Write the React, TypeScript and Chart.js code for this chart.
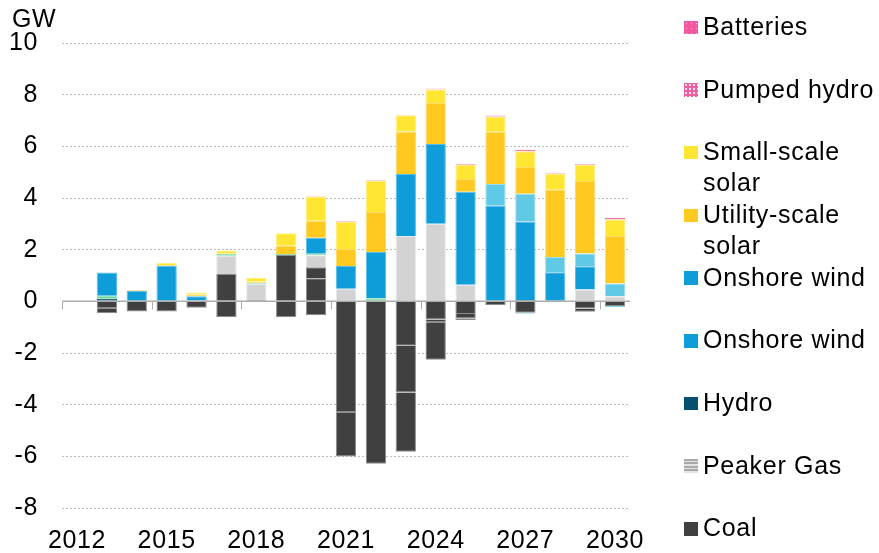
import React, { useEffect, useRef } from "react";
import { Chart, registerables } from "chart.js";

Chart.register(...registerables);

const years = ["2012","2013","2014","2015","2016","2017","2018","2019","2020","2021","2022","2023","2024","2025","2026","2027","2028","2029","2030"];

// Coal retirements (negative), split as in the source bars
const coalRet1 = [0, -0.27, -0.39, -0.39, -0.25, -0.62, 0, -0.62, -0.54, -4.29, -6.29, -1.72, -0.70, -0.49, -0.14, -0.44, 0, -0.28, -0.18];
const coalRet2 = [0, -0.19, 0, 0, 0, 0, 0, 0, 0, -1.72, 0, -1.81, -0.11, -0.17, 0, 0, 0, -0.12, 0];
const coalRet3 = [0, 0, 0, 0, 0, 0, 0, 0, 0, 0, 0, -2.29, -1.45, -0.06, 0, 0, 0, 0, 0];
// Coal additions (positive)
const coalAdd1 = [0, 0, 0, 0, 0, 1.06, 0.05, 1.79, 0.89, 0, 0, 0, 0, 0, 0, 0, 0, 0, 0];
const coalAdd2 = [0, 0, 0, 0, 0, 0, 0, 0, 0.43, 0, 0, 0, 0, 0, 0, 0, 0, 0, 0];
const peakerGas = [0, 0, 0, 0, 0, 0.70, 0.63, 0, 0.46, 0.49, 0, 2.53, 3.00, 0.64, 0, 0, 0, 0.46, 0.20];
const hydro = [0, 0.10, 0, 0, 0, 0, 0, 0, 0, 0, 0, 0, 0, 0, 0, 0.05, 0, 0, 0];
const other = [0, 0.12, 0, 0, 0.03, 0.08, 0.04, 0.04, 0.06, 0, 0.12, 0, 0, 0, 0, 0, 0, 0, 0];
const onshoreWind = [0, 0.90, 0.40, 1.38, 0.17, 0, 0, 0, 0.62, 0.88, 1.79, 2.40, 3.09, 3.60, 3.70, 3.04, 1.13, 0.90, 0];
const onshoreWind2 = [0, 0, 0, 0, 0, 0, 0, 0, 0, 0, 0, 0, 0, 0, 0.84, 1.07, 0.59, 0.49, 0.49];
const onshoreWind2Neg = [0, 0, 0, 0, 0, 0, 0, 0, 0, 0, 0, 0, 0, 0, 0, -0.04, -0.04, 0, -0.05];
const utilitySolar = [0, 0, 0.03, 0.03, 0.06, 0.03, 0.05, 0.32, 0.66, 0.66, 1.55, 1.64, 1.59, 0.50, 2.02, 1.04, 2.60, 2.81, 1.84];
const smallSolar = [0, 0, 0, 0.07, 0.08, 0.10, 0.13, 0.49, 0.94, 1.04, 1.20, 0.63, 0.52, 0.54, 0.59, 0.61, 0.62, 0.62, 0.64];
const pumpedHydro = [0, 0, 0, 0, 0, 0, 0, 0, 0.03, 0.03, 0.03, 0.02, 0.04, 0.04, 0.04, 0, 0.04, 0.04, 0];
const batteries = [0, 0, 0, 0, 0, 0, 0, 0, 0, 0, 0, 0, 0, 0, 0, 0.06, 0, 0, 0.06];

const yMin = -8;
const yMax = 10;
const yStep = 2;
const unitLabel = "GW";

const legendLabels = [["Batteries"], ["Pumped hydro"], ["Small-scale", "solar"], ["Utility-scale", "solar"], ["Onshore wind"], ["Onshore wind"], ["Hydro"], ["Peaker Gas"], ["Coal"]];

const C = {
  coal: "#404040", coalB: "#8C8C8C",
  peaker: "#D3D3D3", peakerB: "#E8E8E8",
  hydro: "#04506E", hydroB: "#04506E",
  other: "#6FD9A0", otherB: "#8EE2B4",
  wind: "#0E9DD9", windB: "#5ABDE8",
  wind2: "#5FC9E6", wind2B: "#9CDDF0",
  utility: "#FFC91F", utilityB: "#FFDA66",
  small: "#FFE633", smallB: "#FFF080",
  pumped: "#F5A0C4", pumpedB: "#F5A0C4",
  batt: "#F2589F", battB: "#F2589F",
};

const legendSwatches: React.CSSProperties[] = [
  { background: C.batt, backgroundImage: "radial-gradient(rgba(255,255,255,0.55) 0.7px, transparent 1px)", backgroundSize: "5px 5px" },
  { background: "#EE5E9F", backgroundImage: "radial-gradient(rgba(255,255,255,0.85) 0.8px, transparent 1.1px)", backgroundSize: "4px 4px" },
  { background: C.small },
  { background: C.utility },
  { background: C.wind },
  { background: C.wind },
  { background: C.hydro },
  { background: "repeating-linear-gradient(#A8A8A8 0px, #A8A8A8 2px, #E4E4E4 2px, #E4E4E4 3.4px)" },
  { background: C.coal },
];

const FONT = "'Liberation Sans', Arial, sans-serif";
const FS = 25;
const LS = "0.6px";

const overlayPlugin = {
  id: "overlay",
  beforeUpdate(chart: any) {
    chart.ctx.letterSpacing = LS;
  },
  beforeDraw(chart: any) {
    chart.ctx.letterSpacing = LS;
  },
  afterDatasetsDraw(chart: any) {
    const { ctx, chartArea, scales } = chart;
    const x = scales.x;
    const y = scales.y;
    const y0 = y.getPixelForValue(0);
    ctx.save();
    ctx.strokeStyle = "#ADADAD";
    ctx.lineWidth = 1.5;
    ctx.beginPath();
    ctx.moveTo(chartArea.left, y0);
    ctx.lineTo(chartArea.right, y0);
    ctx.stroke();
    const w = (chartArea.right - chartArea.left) / years.length;
    ctx.lineWidth = 1;
    for (let i = 0; i < years.length; i += 3) {
      const px = Math.round(x.getPixelForValue(i) - w / 2) + 0.5;
      ctx.beginPath();
      ctx.moveTo(px, y0);
      ctx.lineTo(px, y0 + 8);
      ctx.stroke();
    }
    ctx.restore();
  },
  afterDraw(chart: any) {
    const { ctx } = chart;
    ctx.save();
    ctx.fillStyle = "#000";
    ctx.font = `${FS}px ${FONT}`;
    ctx.textAlign = "left";
    ctx.textBaseline = "alphabetic";
    ctx.fillText(unitLabel, 12, 27);
    ctx.restore();
  },
};

export default function App() {
  const ref = useRef<HTMLCanvasElement>(null);
  useEffect(() => {
    if (!ref.current) return;
    const mk = (label: string, data: number[], color: string, border: string) => ({
      label,
      data,
      backgroundColor: color,
      borderColor: border,
      borderWidth: 1,
      borderSkipped: "start" as const,
      barPercentage: 0.68,
      categoryPercentage: 1,
    });
    const chart = new Chart(ref.current, {
      type: "bar",
      data: {
        labels: years,
        datasets: [
          mk("Coal", coalRet1, C.coal, C.coalB),
          mk("Coal 2", coalRet2, C.coal, C.coalB),
          mk("Coal 3", coalRet3, C.coal, C.coalB),
          mk("Coal add", coalAdd1, C.coal, C.coalB),
          mk("Coal add 2", coalAdd2, C.coal, C.coalB),
          mk("Peaker Gas", peakerGas, C.peaker, C.peakerB),
          mk("Hydro", hydro, C.hydro, C.hydroB),
          mk("Other", other, C.other, C.otherB),
          mk("Onshore wind", onshoreWind, C.wind, C.windB),
          mk("Onshore wind (2)", onshoreWind2, C.wind2, C.wind2B),
          mk("Onshore wind (2) neg", onshoreWind2Neg, C.wind2, C.wind2B),
          mk("Utility-scale solar", utilitySolar, C.utility, C.utilityB),
          mk("Small-scale solar", smallSolar, C.small, C.smallB),
          mk("Pumped hydro", pumpedHydro, C.pumped, C.pumpedB),
          mk("Batteries", batteries, C.batt, C.battB),
        ],
      },
      options: {
        responsive: false,
        animation: false,
        layout: { padding: { left: 0, top: 43, right: 249, bottom: 0 } },
        plugins: { legend: { display: false }, tooltip: { enabled: false } },
        scales: {
          x: {
            stacked: true,
            grid: { display: false, drawTicks: false },
            border: { display: false },
            ticks: {
              autoSkip: false,
              maxRotation: 0,
              minRotation: 0,
              padding: 18,
              color: "#000",
              font: { family: FONT, size: FS },
              callback: (_v: any, i: number) => (i % 3 === 0 ? years[i] : ""),
            },
            afterFit: (s: any) => { s.height = 45; },
          },
          y: {
            stacked: true,
            min: yMin,
            max: yMax,
            grid: {
              drawTicks: false,
              color: (ctx: any) => (ctx.tick && ctx.tick.value === 0 ? "rgba(0,0,0,0)" : "#BDBDBD"),
              lineWidth: 1,
            },
            border: { display: false, dash: [2, 2] },
            ticks: {
              stepSize: yStep,
              padding: 24,
              color: "#000",
              font: { family: FONT, size: FS },
            },
            afterFit: (s: any) => { s.width = 62; },
          },
        },
      },
      plugins: [overlayPlugin],
    });
    return () => chart.destroy();
  }, []);

  const base = (i: number) => 35 + 62.7 * i;
  return (
    <div style={{ position: "absolute", left: 0, top: 0, width: 879, height: 553, background: "#fff" }}>
      <canvas ref={ref} width={879} height={553} style={{ position: "absolute", left: 0, top: 0 }} />
      {legendLabels.map((lines, i) => (
        <React.Fragment key={i}>
          <div style={{ position: "absolute", left: 684, top: base(i) - 14.5, width: 14, height: 13.5, ...legendSwatches[i] }} />
          <div style={{ position: "absolute", left: 703, top: base(i) - 24.2, fontFamily: FONT, fontSize: FS, lineHeight: "31px", letterSpacing: "0.7px", color: "#000", whiteSpace: "nowrap" }}>
            {lines.map((l, j) => (<div key={j}>{l}</div>))}
          </div>
        </React.Fragment>
      ))}
    </div>
  );
}
